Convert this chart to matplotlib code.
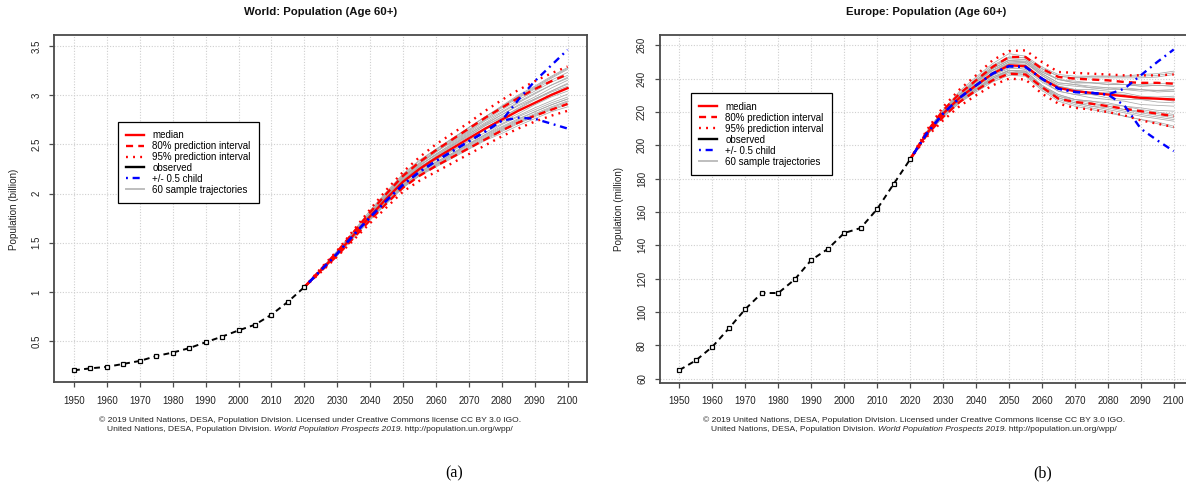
import numpy as np
import matplotlib
matplotlib.use("Agg")
import matplotlib.pyplot as plt
from matplotlib.lines import Line2D

plt.rcParams['font.family'] = ['Liberation Sans', 'DejaVu Sans']

# ---- data ----
years_obs = [1950, 1955, 1960, 1965, 1970, 1975, 1980, 1985, 1990, 1995, 2000, 2005, 2010, 2015, 2020]
years_proj = [2020, 2025, 2030, 2035, 2040, 2045, 2050, 2055, 2060, 2065, 2070, 2075, 2080, 2085, 2090, 2095, 2100]

# World, billion
world_obs = [0.205, 0.225, 0.24, 0.27, 0.30, 0.35, 0.385, 0.43, 0.49, 0.547, 0.61, 0.668, 0.77, 0.90, 1.05]
world_med = [1.05, 1.22, 1.39, 1.58, 1.77, 1.95, 2.12, 2.25, 2.36, 2.46, 2.56, 2.66, 2.75, 2.84, 2.92, 3.00, 3.07]
world_80u = [1.05, 1.23, 1.41, 1.61, 1.81, 2.00, 2.18, 2.32, 2.44, 2.55, 2.66, 2.77, 2.87, 2.97, 3.06, 3.14, 3.21]
world_80l = [1.05, 1.21, 1.37, 1.55, 1.73, 1.90, 2.06, 2.18, 2.28, 2.37, 2.46, 2.55, 2.64, 2.72, 2.79, 2.85, 2.91]
world_95u = [1.05, 1.24, 1.42, 1.63, 1.84, 2.04, 2.22, 2.37, 2.50, 2.61, 2.72, 2.84, 2.95, 3.05, 3.14, 3.22, 3.29]
world_95l = [1.05, 1.20, 1.36, 1.53, 1.70, 1.86, 2.02, 2.13, 2.22, 2.31, 2.40, 2.49, 2.58, 2.66, 2.73, 2.79, 2.84]
world_blo = [1.05, 1.22, 1.39, 1.58, 1.76, 1.93, 2.09, 2.22, 2.33, 2.43, 2.53, 2.63, 2.74, 2.77, 2.76, 2.71, 2.66]
world_bhi = [1.05, 1.22, 1.39, 1.58, 1.76, 1.93, 2.09, 2.22, 2.33, 2.43, 2.53, 2.63, 2.74, 2.95, 3.14, 3.30, 3.46]

# sample trajectories, deviation from median in hundredths of a billion
world_traj = [
    [0, 1, 2, 3, 4, 6, 7, 8, 9, 10, 11, 12, 13, 14, 15, 17, 19],
    [0, -1, -1, -2, -3, -4, -5, -6, -7, -8, -9, -10, -11, -12, -13, -14, -16],
    [0, 0, 1, 1, 2, 3, 4, 5, 6, 8, 9, 10, 12, 13, 14, 15, 16],
    [0, 0, -1, -1, -2, -2, -3, -4, -4, -5, -6, -6, -7, -8, -9, -10, -11],
    [0, 1, 1, 2, 2, 3, 2, 3, 4, 4, 5, 4, 5, 6, 6, 7, 8],
    [0, 0, 0, -1, 0, -1, -1, -2, -2, -3, -3, -4, -4, -5, -5, -6, -6],
    [0, 1, 2, 2, 3, 5, 6, 6, 7, 6, 7, 8, 8, 9, 10, 10, 11],
    [0, -1, -2, -2, -3, -5, -6, -7, -9, -10, -11, -12, -14, -15, -16, -17, -19],
    [0, 0, 1, 2, 3, 3, 4, 4, 3, 3, 4, 5, 5, 5, 4, 4, 5],
    [0, 0, -1, -1, -1, -2, -2, -1, -1, -2, -2, -1, -2, -3, -2, -2, -3],
    [0, 1, 1, 2, 3, 4, 5, 6, 8, 9, 11, 12, 14, 16, 17, 19, 21],
    [0, -1, -1, -2, -2, -3, -4, -3, -4, -5, -5, -6, -5, -6, -7, -8, -9],
    [0, 0, 0, 1, 1, 1, 2, 2, 1, 2, 2, 3, 3, 2, 3, 3, 2],
    [0, -1, -1, -1, -2, -3, -3, -4, -5, -6, -6, -7, -8, -9, -9, -10, -11],
    [0, 1, 2, 3, 4, 5, 5, 5, 6, 7, 8, 9, 10, 11, 12, 13, 13],
    [0, 0, -1, -2, -3, -3, -4, -5, -6, -6, -7, -8, -9, -10, -11, -12, -13],
    [0, 0, 1, 1, 2, 2, 3, 3, 4, 5, 6, 6, 7, 8, 9, 10, 10],
    [0, 0, 0, 0, -1, -1, 0, 0, -1, -1, 0, 0, 1, 1, 0, 1, 1],
    [0, 1, 1, 1, 2, 2, 2, 1, 2, 3, 3, 3, 2, 3, 4, 4, 4],
    [0, -1, -1, -2, -2, -4, -5, -6, -7, -7, -8, -9, -10, -11, -12, -13, -14],
    [0, 1, 3, 4, 6, 7, 8, 9, 9, 10, 11, 12, 13, 15, 16, 18, 20],
    [0, -1, -2, -3, -4, -5, -6, -7, -8, -9, -10, -11, -12, -13, -14, -15, -17],
]

# Europe, million
eur_obs = [65.2, 71.0, 79.2, 90.2, 101.8, 111.4, 111.4, 119.6, 131.2, 137.8, 147.4, 150.4, 161.8, 176.8, 191.6]
eur_med = [191.6, 207, 219, 228.5, 236, 243, 248, 247.5, 240, 234.5, 232.5, 231.5, 230.5, 229.5, 228.5, 228, 227.5]
eur_80u = [191.6, 208, 221, 231, 239, 247, 253, 253, 246, 241, 240, 239.5, 239, 238, 237.5, 237.5, 237]
eur_80l = [191.6, 206, 217, 226, 233, 239, 243, 242.5, 235, 228, 226, 225, 223.5, 222, 220.5, 219, 217.5]
eur_95u = [191.6, 209, 223, 233.5, 242, 251, 256.5, 257, 250, 244, 243.5, 243, 242.5, 242, 242, 242, 242.5]
eur_95l = [191.6, 205, 215, 223.5, 230, 236, 240, 239.5, 231, 225, 222.5, 221.5, 220, 218, 215, 213, 211]
eur_blo = [191.6, 207, 219, 228.5, 236, 243, 247.5, 247, 240, 234, 232, 231.5, 230.5, 224, 210, 203, 196.5]
eur_bhi = [191.6, 207, 219, 228.5, 236, 243, 247.5, 247, 240, 234, 232, 231.5, 230.5, 234, 242, 250, 257.5]

# sample trajectories, deviation from median in millions
eur_traj = [
    [0, 1, 2, 3, 4, 5, 5, 5, 6, 7, 8, 9, 10, 11, 12, 13, 15],
    [0, -1, -2, -3, -3, -4, -5, -5, -6, -6, -7, -8, -9, -10, -11, -12, -13],
    [0, 0, 1, 2, 2, 3, 3, 3, 4, 5, 5, 6, 7, 7, 8, 9, 10],
    [0, 0, -1, -1, -2, -2, -3, -3, -4, -4, -5, -5, -6, -6, -7, -8, -9],
    [0, 1, 1, 1, 2, 2, 1, 2, 2, 2, 3, 3, 3, 4, 4, 5, 5],
    [0, 0, 0, -1, -1, -1, -1, -2, -2, -2, -2, -3, -3, -3, -4, -4, -4],
    [0, 1, 2, 2, 3, 4, 4, 4, 5, 5, 6, 6, 6, 7, 7, 8, 8],
    [0, -1, -1, -2, -3, -4, -4, -5, -6, -7, -8, -9, -10, -12, -13, -14, -16],
    [0, 0, 1, 1, 1, 2, 2, 2, 2, 1, 1, 2, 2, 2, 1, 1, 2],
    [0, 0, 0, -1, -1, -1, -2, -1, -1, -2, -2, -1, -2, -2, -1, -2, -2],
    [0, 1, 2, 2, 3, 4, 5, 5, 6, 7, 8, 10, 11, 12, 14, 15, 17],
    [0, -1, -1, -2, -2, -3, -3, -3, -4, -4, -5, -5, -5, -6, -6, -7, -7],
    [0, 0, 0, 1, 0, 1, 1, 1, 0, 1, 1, 0, 1, 1, 0, 0, 1],
    [0, -1, -1, -1, -2, -2, -3, -3, -4, -5, -5, -6, -7, -8, -8, -9, -10],
    [0, 1, 1, 2, 3, 3, 3, 4, 4, 5, 5, 6, 6, 7, 7, 8, 8],
    [0, 0, -1, -2, -2, -3, -3, -4, -5, -5, -6, -7, -7, -8, -9, -10, -11],
    [0, 0, 1, 1, 2, 2, 2, 3, 3, 3, 4, 4, 4, 5, 5, 5, 6],
    [0, 0, 0, 0, -1, 0, 0, 0, -1, 0, 0, -1, 0, 0, -1, 0, -1],
    [0, 1, 1, 2, 2, 3, 3, 2, 3, 3, 4, 3, 4, 4, 5, 4, 5],
    [0, -1, -1, -2, -3, -3, -4, -4, -5, -6, -7, -8, -8, -9, -10, -11, -12],
    [0, 1, 2, 4, 5, 6, 7, 6, 7, 8, 9, 10, 11, 12, 13, 14, 16],
    [0, -1, -2, -3, -4, -5, -6, -6, -7, -8, -9, -10, -11, -12, -13, -15, -17],
]

xticks = list(range(1950, 2101, 10))
world_yticks = [0.5, 1, 1.5, 2, 2.5, 3, 3.5]
world_ylabels = ['0.5', '1', '1.5', '2', '2.5', '3', '3.5']
eur_yticks = list(range(60, 261, 20))

credit1 = '\u00a9 2019 United Nations, DESA, Population Division. Licensed under Creative Commons license CC BY 3.0 IGO.'
credit2 = [('United Nations, DESA, Population Division. ', 'normal'),
           ('World Population Prospects 2019', 'italic'),
           ('. http://population.un.org/wpp/', 'normal')]

W, H = 1186, 484
fig = plt.figure(figsize=(W / 100, H / 100), dpi=100)
renderer = fig.canvas.get_renderer()


def px_axes(x0, y0, x1, y1):
    # pixel box (top-left origin) -> axes
    return fig.add_axes([x0 / W, 1 - y1 / H, (x1 - x0) / W, (y1 - y0) / H])


def panel(ax, obs, med, p80u, p80l, p95u, p95l, blo, bhi, traj, unit, ylim, yticks, ylabels):
    med_arr = np.array(med)
    for row in traj:
        ax.plot(years_proj, med_arr + np.array(row) * unit, color='#aaaaaa', lw=0.55, zorder=1)
    for lo_hi, ls in [((p80u, p80l), (0, (3, 2.2))), ((p95u, p95l), (0, (0.8, 2.2)))]:
        for s in lo_hi:
            ax.plot(years_proj, s, color='red', lw=1.7, ls=ls, zorder=3)
    ax.plot(years_proj, med, color='red', lw=1.7, zorder=4)
    for s in (blo, bhi):
        ax.plot(years_proj, s, color='blue', lw=1.7, ls=(0, (0.8, 2, 3, 2)), zorder=5)
    ax.plot(years_obs, obs, color='black', lw=1.4, ls=(0, (3, 2.2)), marker='s', ms=2.6,
            mfc='white', mec='black', mew=0.9, zorder=6)

    ax.set_xlim(1944, 2106)
    ax.set_ylim(*ylim)
    ax.set_xticks(xticks)
    ax.set_yticks(yticks)
    ax.set_yticklabels(ylabels, rotation=90, va='center')
    ax.grid(True, color='#cfcfcf', ls=(0, (1, 1.5)), lw=0.8)
    ax.set_axisbelow(True)
    for sp in ax.spines.values():
        sp.set_color('#4a4a4a')
        sp.set_linewidth(1.3)
    ax.tick_params(axis='both', length=3.6, width=0.9, color='#4a4a4a',
                   labelsize=7, labelcolor='#222222')
    ax.tick_params(axis='x', pad=6.0)
    ax.tick_params(axis='y', pad=5.5)

    handles = [
        Line2D([], [], color='red', lw=1.7),
        Line2D([], [], color='red', lw=1.7, ls=(0, (3, 2.2))),
        Line2D([], [], color='red', lw=1.7, ls=(0, (0.8, 2.2))),
        Line2D([], [], color='black', lw=1.7),
        Line2D([], [], color='blue', lw=1.7, ls=(0, (0.8, 2, 3, 2))),
        Line2D([], [], color='#bebebe', lw=1.4),
    ]
    labels = ['median', '80% prediction interval', '95% prediction interval',
              'observed', '+/- 0.5 child', '60 sample trajectories']
    return handles, labels


def add_legend(ax, handles, labels, x0, y0):
    leg = ax.legend(handles, labels, loc='upper left', bbox_to_anchor=(x0 / W, 1 - y0 / H),
                    bbox_transform=fig.transFigure, borderaxespad=0, fontsize=7.0,
                    handlelength=1.85, handletextpad=0.85, borderpad=0.85, labelspacing=0.1,
                    fancybox=False, framealpha=1, edgecolor='black')
    leg.get_frame().set_linewidth(0.9)
    leg.set_zorder(10)


def mixed_line(cx, cy, parts, size):
    # centred line of text built from pieces in different styles
    texts = [fig.text(0, cy / H, s, fontsize=size, style=st, ha='left', va='center', color='#222222')
             for s, st in parts]
    widths = [t.get_window_extent(renderer).width for t in texts]
    x = cx - sum(widths) / 2
    for t, w in zip(texts, widths):
        t.set_x(x / W)
        x += w


# World
ax1 = px_axes(54.3, 35, 587.3, 382.3)
h, l = panel(ax1, world_obs, world_med, world_80u, world_80l, world_95u, world_95l,
             world_blo, world_bhi, world_traj, 0.01, (0.083, 3.61), world_yticks, world_ylabels)
add_legend(ax1, h, l, 117.7, 121.7)

# Europe
ax2 = px_axes(659.7, 35, 1193.5, 382.7)
h, l = panel(ax2, eur_obs, eur_med, eur_80u, eur_80l, eur_95u, eur_95l,
             eur_blo, eur_bhi, eur_traj, 1.0, (57.6, 266.2), eur_yticks, [str(v) for v in eur_yticks])
add_legend(ax2, h, l, 690.8, 93.5)

# titles, axis labels, credits, panel letters
fig.text(320.8 / W, 1 - 12 / H, 'World: Population (Age 60+)', ha='center', va='center',
         fontsize=8.2, fontweight='bold', color='#111111')
fig.text(926.6 / W, 1 - 12 / H, 'Europe: Population (Age 60+)', ha='center', va='center',
         fontsize=8.2, fontweight='bold', color='#111111')
fig.text(14 / W, 1 - 209 / H, 'Population (billion)', rotation=90, ha='center', va='center',
         fontsize=7.1, color='#222222')
fig.text(618.5 / W, 1 - 209 / H, 'Population (million)', rotation=90, ha='center', va='center',
         fontsize=7.1, color='#222222')
for cx in (310, 914):
    fig.text(cx / W, 1 - 420.5 / H, credit1, ha='center', va='center', fontsize=6.1, color='#222222')
    mixed_line(cx, H - 429.8, credit2, 6.1)
fig.text(454 / W, 1 - 473 / H, '(a)', ha='center', va='center', fontsize=11.5,
         family=['Liberation Serif', 'DejaVu Serif'])
fig.text(1042.5 / W, 1 - 473 / H, '(b)', ha='center', va='center', fontsize=11.5,
         family=['Liberation Serif', 'DejaVu Serif'])

fig.savefig('out.png', dpi=100)
